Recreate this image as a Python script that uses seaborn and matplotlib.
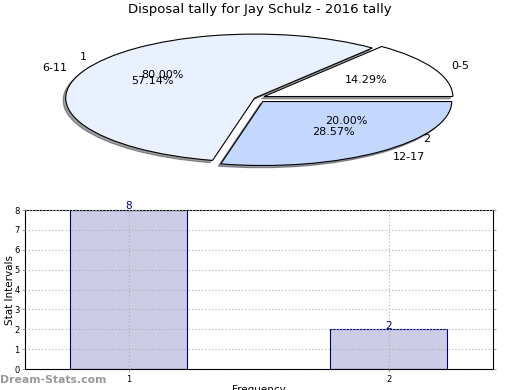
import matplotlib
matplotlib.use("Agg")
import matplotlib.pyplot as plt
import seaborn as sns
import pandas as pd

TITLE = "Disposal tally for Jay Schulz - 2016 tally"

# pie: stat intervals
interval_labels = ["0-5", "6-11", "12-17"]
interval_counts = [1, 4, 2]

# second dataset: frequency counts (labels drawn on the pie, bars below)
freq_labels = ["1", "2"]
freq_counts = [8, 2]

PIE_COLORS = ["#FFFFFF", "#EAF1FE", "#C4D8FE"]
PIE_EXPLODE = [0.055, 0.0, 0.07]
BAR_FACE = "#CCCCE6"
BAR_EDGE = "#000080"

sns.set_theme(style="white")
plt.rcParams["font.family"] = ["DejaVu Sans"]
plt.rcParams["text.color"] = "black"
plt.rcParams["axes.labelcolor"] = "black"
plt.rcParams["xtick.labelcolor"] = "black"
plt.rcParams["ytick.labelcolor"] = "black"

fig = plt.figure(figsize=(5.2, 3.9), dpi=100)
fig.text(0.5, 1 - 10 / 390, TITLE, ha="center", va="center", fontsize=9.5)

# squashed "3d" pie
ax_pie = fig.add_axes([0.0356, 0.5436, 0.908, 0.410])
ax_pie.pie(interval_counts, labels=interval_labels, colors=PIE_COLORS,
           explode=PIE_EXPLODE, autopct="%.2f%%", startangle=0,
           shadow={"ox": -0.01, "oy": -0.025, "shade": 0.75},
           wedgeprops={"edgecolor": "black", "linewidth": 0.8},
           textprops={"fontsize": 8})
ax_pie.pie(freq_counts, labels=freq_labels, autopct="%.2f%%", startangle=0,
           wedgeprops={"fill": False, "linewidth": 0},
           textprops={"fontsize": 8})
ax_pie.set_aspect("auto")
ax_pie.set_xlim(-1.25, 1.25)
ax_pie.set_ylim(-1.25, 1.25)

# bar chart
ax_bar = fig.add_axes([0.048, 0.0538, 0.9, 0.4077])
df = pd.DataFrame({"Frequency": freq_labels, "Stat Intervals": freq_counts})
sns.barplot(data=df, x="Frequency", y="Stat Intervals", color=BAR_FACE,
            edgecolor=BAR_EDGE, linewidth=0.8, width=0.45, saturation=1,
            ax=ax_bar)
for c in ax_bar.containers:
    ax_bar.bar_label(c, color=BAR_EDGE, fontsize=7.5, padding=-1)
ax_bar.set_xlim(-0.40, 1.40)
ax_bar.set_ylim(0, 8)
ax_bar.set_yticks(range(0, 9))
ax_bar.grid(True, color="#B0B0B0", linestyle=(0, (1, 2)), linewidth=0.8)
ax_bar.set_axisbelow(False)
for s in ax_bar.spines.values():
    s.set_color("black")
    s.set_linewidth(0.8)
ax_bar.tick_params(axis="both", labelsize=6, length=2, width=0.6, color="#888888",
                   left=True, right=True, bottom=True, pad=2)
ax_bar.set_xlabel("Frequency", fontsize=7.5, labelpad=1)
ax_bar.set_ylabel("Stat Intervals", fontsize=7.5, labelpad=-1)

fig.text(0.0, 1 - 380 / 390, "Dream-Stats.com", ha="left", va="center",
         fontsize=7.8, color="#999999", fontweight="semibold")

fig.savefig("out.png", dpi=100)
